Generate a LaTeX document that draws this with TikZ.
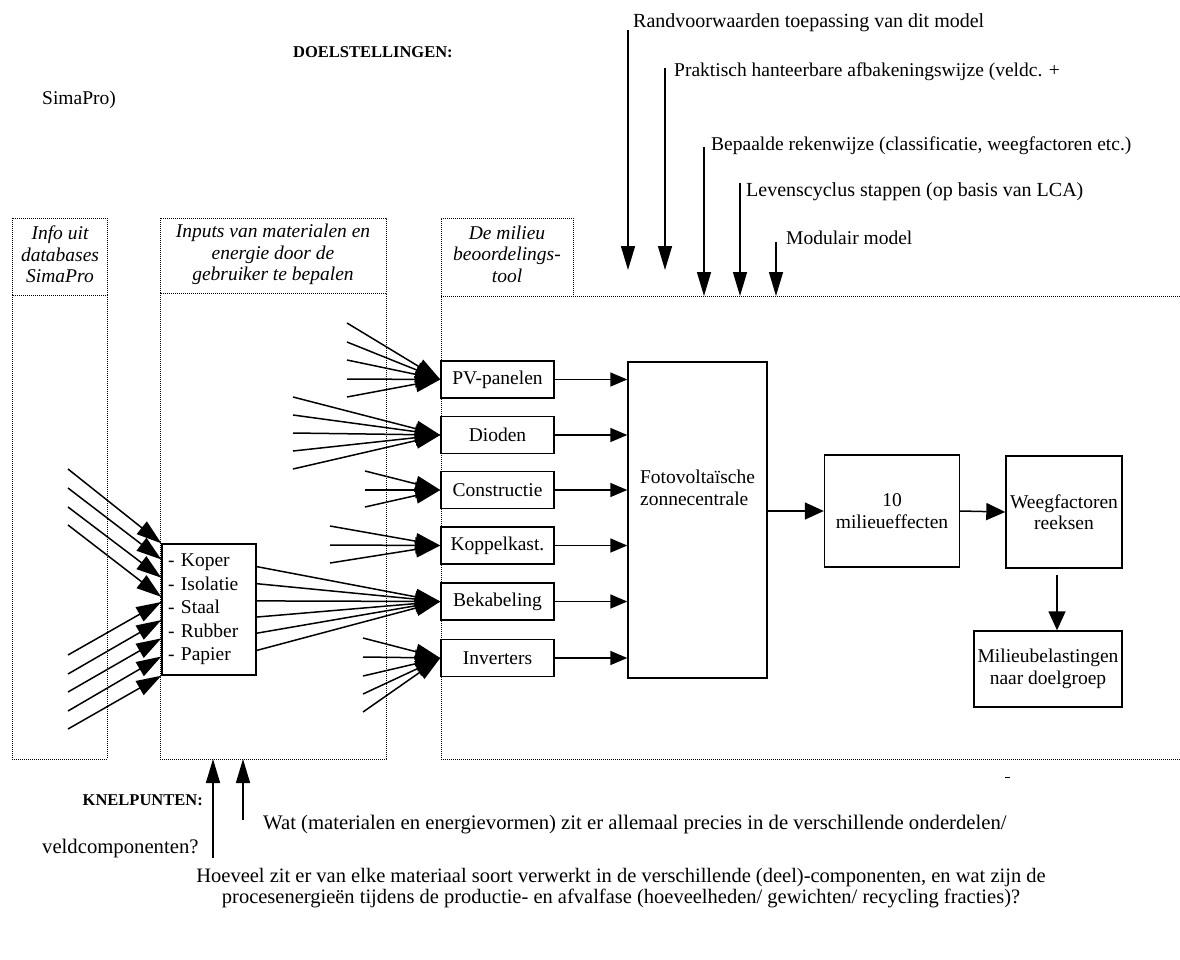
\documentclass[tikz,border=0pt]{standalone}
\usepackage{fontspec}
\setmainfont{Liberation Serif}
\usetikzlibrary{arrows.meta,calc}

\begin{document}
\begin{tikzpicture}[x=1pt,y=-1pt,
  every node/.style={font=\fontsize{19.5}{21.5}\selectfont, inner sep=0pt},
  dotbox/.style={draw, line width=0.9pt, dash pattern=on 0.9pt off 1.1pt},
  box/.style={draw, line width=1.4pt, inner sep=0pt, align=center},
  ln/.style={line width=1.5pt},
  fan/.style={ln, -{Triangle[length=25pt,width=16pt]}},
  feed/.style={ln, -{Triangle[length=17pt,width=14pt]}},
  flow/.style={ln, -{Triangle[length=19pt,width=17pt]}},
  goal/.style={ln, -{Triangle[length=24pt,width=14pt]}},
  hdr/.style={font=\fontsize{19.5}{21.5}\selectfont\itshape, align=center},
  lbl/.style={anchor=west},
  note/.style={anchor=west, font=\fontsize{20.7}{20}\selectfont},
  caps/.style={font=\fontsize{16.5}{18}\selectfont\bfseries},
  comp/.style={box, minimum width=113pt, minimum height=37pt}
]
\useasboundingbox (0,0) rectangle (1180,959);

% ---- dotted column frames ----
\draw[dotbox] (12,218) rectangle (107,295);
\draw[dotbox] (12,295) rectangle (107,759);
\draw[dotbox] (160,218) rectangle (386,293);
\draw[dotbox] (160,293) rectangle (386,759);
\draw[dotbox] (441,296) -- (441,218) -- (573,218) -- (573,296);
\draw[dotbox] (1180,296) -- (441,296) -- (441,759) -- (1180,759);

\node[hdr] (h1) at (60,254.5) {Info uit\\databases\\SimaPro};
\node[hdr] (h2) at (273,254.5) {Inputs van materialen en\\energie door de\\gebruiker te bepalen};
\node[hdr] (h3) at (507,254) {De milieu\\beoordelings-\\tool};

% ---- headings and loose texts ----
\node[caps, anchor=west] (doel) at (293,52) {DOELSTELLINGEN:};
\node[lbl] (sima) at (42,100) {SimaPro)};
\node[caps, anchor=east] (knel) at (203,800) {KNELPUNTEN:};
\node[note] (veld) at (42,849) {veldcomponenten?};
\node[note] (wat) at (263,825) {Wat (materialen en energievormen) zit er allemaal precies in de verschillende onderdelen/};
\node[align=center, font=\fontsize{20.5}{20.5}\selectfont] (hoeveel) at (621,888)
  {Hoeveel zit er van elke materiaal soort verwerkt in de verschillende (deel)-componenten, en wat zijn de\\
   procesenergieën tijdens de productie- en afvalfase (hoeveelheden/ gewichten/ recycling fracties)?};

% ---- goals on top ----
\node[lbl, font=\fontsize{20}{21.5}\selectfont] (g1) at (633,23) {Randvoorwaarden toepassing van dit model};
\node[lbl] (g2) at (674,72) {Praktisch hanteerbare afbakeningswijze (veldc. +};
\node[lbl] (g3) at (711,146) {Bepaalde rekenwijze (classificatie, weegfactoren etc.)};
\node[lbl, font=\fontsize{20}{21.5}\selectfont] (g4) at (746,192) {Levenscyclus stappen (op basis van LCA)};
\node[lbl] (g5) at (786,238) {Modulair model};
\coordinate (g1s) at (628,30);  \coordinate (g1e) at (628,270);
\coordinate (g2s) at (665,68);  \coordinate (g2e) at (665,270);
\coordinate (g3s) at (704,147); \coordinate (g3e) at (704,296);
\coordinate (g4s) at (740,183); \coordinate (g4e) at (740,296);
\coordinate (g5s) at (776,242); \coordinate (g5e) at (776,296);
\foreach \i in {1,...,5} \draw[goal] (g\i s) -- (g\i e);

% ---- bottleneck arrows ----
\coordinate (k1s) at (213,858); \coordinate (k1e) at (213,759);
\coordinate (k2s) at (243,820); \coordinate (k2e) at (243,759);
\draw[goal] (k1s) -- (k1e);
\draw[goal] (k2s) -- (k2e);

% ---- materials box ----
\node[box, minimum width=94pt, minimum height=131pt, text width=82pt, align=left,
      font=\fontsize{19.5}{23.5}\selectfont] (mat) at (209,609.5)
  {- Koper\\- Isolatie\\- Staal\\- Rubber\\- Papier};

% inputs from the databases
\foreach \y/\t [count=\i] in {469/0.0,488/0.122,507/0.26,525/0.405,655/0.443,674/0.58,692/0.718,711/0.855,729/1.0}{
  \coordinate (db\i) at (68,\y);
  \draw[fan] (db\i) -- ($(mat.north west)!\t!(mat.south west)$);
}

% ---- components ----
\node[comp] (pv)   at (497.5,379.5) {PV-panelen};
\node[comp] (dio)  at (497.5,435)   {Dioden};
\node[comp] (con)  at (497.5,490)   {Constructie};
\node[comp] (kop)  at (497.5,545.5) {Koppelkast.};
\node[comp] (bek)  at (497.5,601.5) {Bekabeling};
\node[comp] (inv)  at (497.5,658)   {Inverters};

% fans of inputs into the components
\foreach \y [count=\i] in {323,342,360,379,397}{
  \coordinate (pvin\i) at (347,\y); \draw[fan] (pvin\i) -- (pv.west);}
\foreach \y [count=\i] in {397,415,433,451,469}{
  \coordinate (dioin\i) at (293,\y); \draw[fan] (dioin\i) -- (dio.west);}
\foreach \y [count=\i] in {471,490,507}{
  \coordinate (conin\i) at (365,\y); \draw[fan] (conin\i) -- (con.west);}
\foreach \y [count=\i] in {526,545,563}{
  \coordinate (kopin\i) at (330,\y); \draw[fan] (kopin\i) -- (kop.west);}
\foreach \y [count=\i] in {638,657,676,694,712}{
  \coordinate (invin\i) at (363,\y); \draw[fan] (invin\i) -- (inv.west);}
\foreach \t in {0.176,0.305,0.435,0.557,0.679,0.809}
  \draw[fan] ($(mat.north east)!\t!(mat.south east)$) -- (bek.west);

% ---- main chain ----
\node[box, minimum width=139pt, minimum height=316pt] (foto) at (697.5,520) {};
\node[align=left] (fotot) at ($(foto.center)+(0,-32)$) {Fotovoltaïsche\\zonnecentrale};
\foreach \n in {pv,dio,con,kop,bek,inv}
  \draw[feed] (\n.east) -- (\n.east -| foto.west);

\node[box, minimum width=135pt, minimum height=112pt] (ten) at (892,511) {10\\milieueffecten};
\node[box, minimum width=116pt, minimum height=112pt] (weeg) at (1064,512) {Weegfactoren\\reeksen};
\node[box, minimum width=148pt, minimum height=76pt] (mil) at (1048,669) {Milieubelastingen\\naar doelgroep};

\draw[flow] (foto.east |- ten.west) -- (ten.west);
\draw[flow] (ten.east) -- (weeg.west);
\coordinate (wdown) at (1057,575);
\draw[flow] (wdown) -- (wdown |- mil.north);

% small stray mark near the lower edge
\draw[line width=1pt] (1005,777) -- (1010,777);
\end{tikzpicture}
\end{document}
